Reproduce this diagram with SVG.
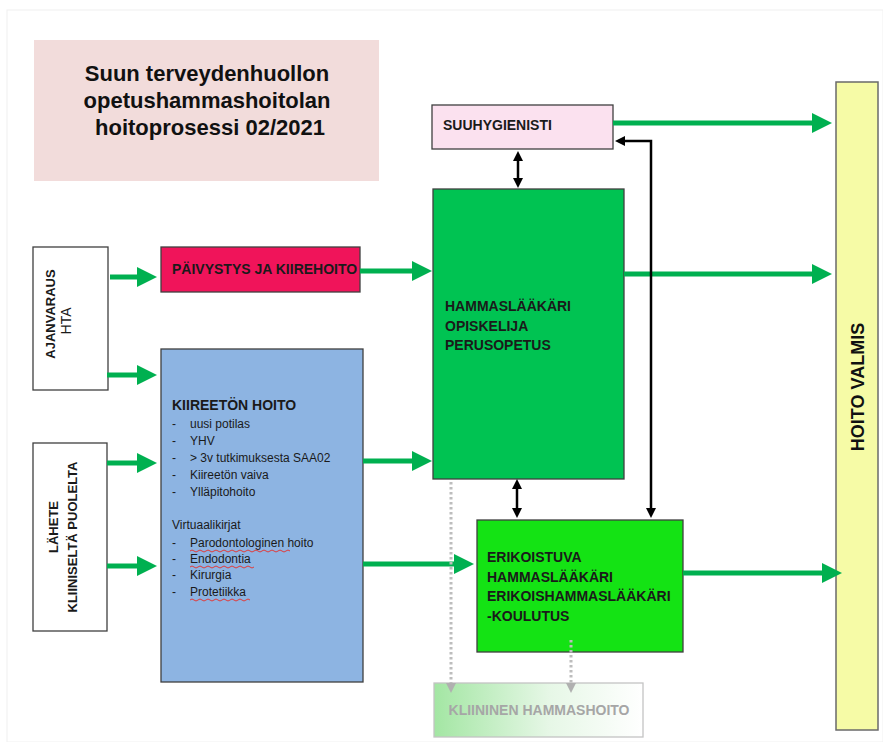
<svg xmlns="http://www.w3.org/2000/svg" width="883" height="742" viewBox="0 0 883 742">
<style>
  text { font-family: "Liberation Sans", Arial, sans-serif; }
  .box { stroke: #3f3f3f; stroke-width: 1.3; }
  .lbl { font-weight: bold; font-size: 14px; fill: #1a1a1a; }
  .body { font-size: 12px; fill: #1a1a1a; }
  .garrow { stroke: #00b050; stroke-width: 5; fill: none; marker-end: url(#gh); }
  .barrow { stroke: #000; stroke-width: 2.5; fill: none; marker-start: url(#bh); marker-end: url(#bh); }
  .darrow { stroke: #bdbdbd; stroke-width: 3; stroke-dasharray: 2.5 2.5; fill: none; marker-end: url(#dh); }
  .squig { stroke: #e03a3a; stroke-width: 1; fill: none; }
</style>
<defs>
  <marker id="gh" markerUnits="userSpaceOnUse" markerWidth="20" markerHeight="20" refX="1" refY="10" orient="auto">
    <path d="M0,0 L20,10 L0,20 z" fill="#00b050"/>
  </marker>
  <marker id="bh" markerUnits="userSpaceOnUse" markerWidth="10" markerHeight="10" refX="1" refY="5" orient="auto-start-reverse">
    <path d="M0,0 L10,5 L0,10 z" fill="#000"/>
  </marker>
  <marker id="dh" markerUnits="userSpaceOnUse" markerWidth="10" markerHeight="10" refX="1" refY="5" orient="auto">
    <path d="M0,0 L10,5 L0,10 z" fill="#b0b0b0"/>
  </marker>
  <linearGradient id="kg" x1="0" y1="0" x2="1" y2="0">
    <stop offset="0" stop-color="#a3e6a3"/>
    <stop offset="0.55" stop-color="#e6f7e6"/>
    <stop offset="1" stop-color="#ffffff"/>
  </linearGradient>
</defs>

<rect x="7" y="10" width="876" height="732" fill="#ffffff" stroke="#f0f0f0" stroke-width="1"/>

<g id="title">
  <rect x="34" y="40" width="345" height="141" fill="#f2dcdb"/>
  <text x="207" y="81" text-anchor="middle" font-size="22" font-weight="bold" fill="#111">Suun terveydenhuollon</text>
  <text x="207" y="108" text-anchor="middle" font-size="22" font-weight="bold" fill="#111">opetushammashoitolan</text>
  <text x="210" y="135" text-anchor="middle" font-size="22" font-weight="bold" fill="#111">hoitoprosessi 02/2021</text>
</g>

<g id="ajanvaraus">
  <rect class="box" x="33" y="247" width="75" height="143" fill="#ffffff"/>
  <text transform="translate(55,314) rotate(-90)" text-anchor="middle" font-size="13" font-weight="bold" fill="#1a1a1a">AJANVARAUS</text>
  <text transform="translate(71,321) rotate(-90)" text-anchor="middle" font-size="14" fill="#1a1a1a">HTA</text>
</g>

<g id="lahete">
  <rect class="box" x="33" y="443" width="74" height="188" fill="#ffffff"/>
  <text transform="translate(58,527) rotate(-90)" text-anchor="middle" font-size="13" font-weight="bold" fill="#1a1a1a">LÄHETE</text>
  <text transform="translate(77,537) rotate(-90)" text-anchor="middle" font-size="13" font-weight="bold" fill="#1a1a1a">KLIINISELTÄ PUOLELTA</text>
</g>

<g id="paivystys">
  <rect class="box" x="161" y="247" width="199" height="45" fill="#f0145a"/>
  <text class="lbl" x="172" y="274" font-size="13">PÄIVYSTYS JA KIIREHOITO</text>
</g>

<g id="kiireeton">
  <rect class="box" x="161" y="349" width="202" height="333" fill="#8db4e2"/>
  <text class="lbl" x="172" y="410">KIIREETÖN HOITO</text>
  <g class="body">
    <text x="172" y="428">-</text><text x="190" y="428">uusi potilas</text>
    <text x="172" y="445">-</text><text x="190" y="445">YHV</text>
    <text x="172" y="462">-</text><text x="190" y="462">&gt; 3v tutkimuksesta SAA02</text>
    <text x="172" y="479">-</text><text x="190" y="479">Kiireetön vaiva</text>
    <text x="172" y="496">-</text><text x="190" y="496">Ylläpitohoito</text>
    <text x="172" y="529">Virtuaalikirjat</text>
    <text x="172" y="547">-</text><text x="190" y="547">Parodontologinen hoito</text>
    <text x="172" y="563">-</text><text x="190" y="563">Endodontia</text>
    <text x="172" y="579">-</text><text x="190" y="579">Kirurgia</text>
    <text x="172" y="596">-</text><text x="190" y="596">Protetiikka</text>
  </g>
  <path class="squig" d="M190,551 q2,-2 4,0 t4,0 t4,0 t4,0 t4,0 t4,0 t4,0 t4,0 t4,0 t4,0 t4,0 t4,0 t4,0 t4,0 t4,0 t4,0 t4,0 t4,0 t4,0 t4,0 t4,0 t4,0 t4,0 t4,0 t4,0"/>
  <path class="squig" d="M190,567 q2,-2 4,0 t4,0 t4,0 t4,0 t4,0 t4,0 t4,0 t4,0 t4,0 t4,0 t4,0 t4,0 t4,0 t4,0 t4,0 t4,0"/>
  <path class="squig" d="M190,600 q2,-2 4,0 t4,0 t4,0 t4,0 t4,0 t4,0 t4,0 t4,0 t4,0 t4,0 t4,0 t4,0 t4,0 t4,0 t4,0"/>
</g>

<g id="suuhygienisti">
  <rect class="box" x="432" y="105" width="181" height="44" fill="#fbe1ef"/>
  <text class="lbl" x="443" y="130" font-size="12.5">SUUHYGIENISTI</text>
</g>

<g id="hammaslaakari">
  <rect class="box" x="433" y="189" width="191" height="290" fill="#00c352"/>
  <text class="lbl" x="445" y="311">HAMMASLÄÄKÄRI</text>
  <text class="lbl" x="445" y="331">OPISKELIJA</text>
  <text class="lbl" x="445" y="350">PERUSOPETUS</text>
</g>

<g id="erikoistuva">
  <rect class="box" x="477" y="520" width="206" height="132" fill="#14e314"/>
  <text class="lbl" x="487" y="562">ERIKOISTUVA</text>
  <text class="lbl" x="487" y="582">HAMMASLÄÄKÄRI</text>
  <text class="lbl" x="487" y="601">ERIKOISHAMMASLÄÄKÄRI</text>
  <text class="lbl" x="487" y="621">-KOULUTUS</text>
</g>

<g id="kliininen">
  <rect x="434" y="683" width="209" height="54" fill="url(#kg)" stroke="#c4c4c4" stroke-width="1.3"/>
  <text x="539" y="715" text-anchor="middle" font-size="14" font-weight="bold" fill="#a6a6a6">KLIININEN HAMMASHOITO</text>
</g>

<g id="hoitovalmis">
  <rect x="836" y="82" width="42" height="648" fill="#f6fba6" stroke="#6a6a6a" stroke-width="1.5"/>
  <text transform="translate(864,387) rotate(-90)" text-anchor="middle" font-size="18" font-weight="bold" fill="#111">HOITO VALMIS</text>
</g>

<g id="connectors">
  <line class="garrow" x1="110" y1="277" x2="138" y2="277"/>
  <line class="garrow" x1="107" y1="375" x2="138" y2="375"/>
  <line class="garrow" x1="107" y1="463" x2="138" y2="463"/>
  <line class="garrow" x1="107" y1="566" x2="138" y2="566"/>
  <line class="garrow" x1="360" y1="271" x2="413" y2="271"/>
  <line class="garrow" x1="363" y1="461" x2="413" y2="461"/>
  <line class="garrow" x1="363" y1="564" x2="455" y2="564"/>
  <line class="garrow" x1="613" y1="123" x2="813" y2="123"/>
  <line class="garrow" x1="624" y1="274" x2="813" y2="274"/>
  <line class="garrow" x1="683" y1="573" x2="823" y2="573"/>

  <line class="barrow" x1="518" y1="160" x2="518" y2="179"/>
  <line class="barrow" x1="517" y1="488" x2="517" y2="509"/>
  <polyline class="barrow" points="624,141 651,141 651,509"/>

  <line class="darrow" x1="451" y1="482" x2="451" y2="684"/>
  <line class="darrow" x1="571" y1="640" x2="571" y2="684"/>
</g>
</svg>
